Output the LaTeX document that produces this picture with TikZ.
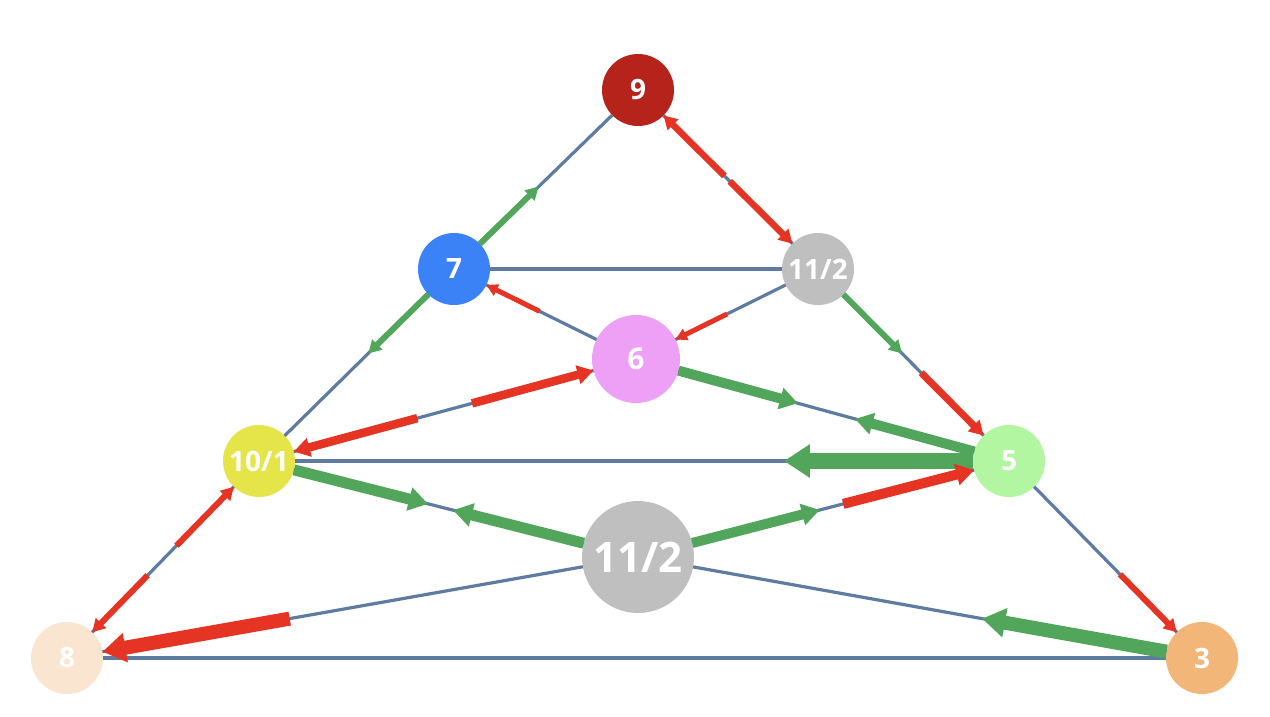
\documentclass[tikz,border=0pt]{standalone}
\usepackage{fontspec}
\newfontfamily\nf{Open Sans}
\usetikzlibrary{arrows.meta,calc}
\definecolor{basec}{RGB}{94,124,162}
\definecolor{arrg}{RGB}{82,166,92}
\definecolor{arrr}{RGB}{229,51,36}
\definecolor{c9}{RGB}{181,35,26}
\definecolor{c7}{RGB}{59,130,246}
\definecolor{cgray}{RGB}{191,191,191}
\definecolor{c6}{RGB}{238,160,247}
\definecolor{c10}{RGB}{229,229,74}
\definecolor{c5}{RGB}{179,246,162}
\definecolor{c8}{RGB}{249,229,208}
\definecolor{c3}{RGB}{241,182,120}
\begin{document}
\begin{tikzpicture}[x=1pt,y=-1pt,
  nd/.style={circle,inner sep=0pt,outer sep=0pt,minimum size=72pt,text=white,font=\nf\bfseries\fontsize{28}{30}\selectfont},
  base/.style={draw=basec,line width=3.2pt},
  grn/.style={draw=arrg,line width=#1pt,-{Triangle[length=5pt 1.3,width=3pt 1.8]}},
  rd/.style={draw=arrr,line width=#1pt,-{Triangle[length=5pt 1.3,width=3pt 1.8]}}]
\useasboundingbox[fill=white] (0,0) rectangle (1270,716);
% nodes
\node[nd,fill=c9] (n9) at (638,90) {9};
\node[nd,fill=c7] (n7) at (454,269) {7};
\node[nd,fill=cgray] (nA) at (818,269) {11/2};
\node[nd,fill=c6,minimum size=88pt,font=\nf\bfseries\fontsize{30}{32}\selectfont] (n6) at (636,359) {6};
\node[nd,fill=c10] (n10) at (259,461) {10/1};
\node[nd,fill=c5] (n5) at (1009,461) {5};
\node[nd,fill=cgray,minimum size=112pt,font=\nf\bfseries\fontsize{42}{44}\selectfont] (nB) at (638,557) {11/2};
\node[nd,fill=c8] (n8) at (67,658) {8};
\node[nd,fill=c3] (n3) at (1202,658) {3};
% base lines
\draw[base] (n9) -- (n7);
\draw[base] (n9) -- (nA);
\draw[base] (n7) -- (nA);
\draw[base] (n7) -- (n6);
\draw[base] (nA) -- (n6);
\draw[base] (n7) -- (n10);
\draw[base] (nA) -- (n5);
\draw[base] (n6) -- (n10);
\draw[base] (n6) -- (n5);
\draw[base] (n10) -- (n5);
\draw[base] (n10) -- (nB);
\draw[base] (nB) -- (n5);
\draw[base] (n10) -- (n8);
\draw[base] (n5) -- (n3);
\draw[base] (nB) -- (n8);
\draw[base] (nB) -- (n3);
\draw[base] (n8) -- (n3);
% flow arrows
\draw[grn=6] (n7) -- ($(n7)!0.46!(n9)$);
\draw[rd=6.5] ($(n9)!0.48!(nA)$) -- (n9);
\draw[rd=6.5] ($(nA)!0.49!(n9)$) -- (nA);
\draw[rd=5] ($(n7)!0.47!(n6)$) -- (n7);
\draw[rd=5] ($(n6)!0.5!(nA)$) -- (n6);
\draw[grn=6] (n7) -- ($(n7)!0.44!(n10)$);
\draw[grn=6] (nA) -- ($(nA)!0.44!(n5)$);
\draw[rd=7] ($(n5)!0.46!(nA)$) -- (n5);
\draw[rd=8.5] ($(n6)!0.435!(n10)$) -- (n6);
\draw[rd=8.5] ($(n10)!0.42!(n6)$) -- (n10);
\draw[grn=10] (n6) -- ($(n6)!0.434!(n5)$);
\draw[grn=10] (n5) -- ($(n5)!0.413!(n6)$);
\draw[grn=16] (n5) -- ($(n5)!0.30!(n10)$);
\draw[grn=11] (n10) -- ($(n10)!0.446!(nB)$);
\draw[grn=11] (nB) -- ($(nB)!0.488!(n10)$);
\draw[grn=10] (nB) -- ($(nB)!0.49!(n5)$);
\draw[rd=10] ($(n5)!0.447!(nB)$) -- (n5);
\draw[rd=6] ($(n10)!0.43!(n8)$) -- (n10);
\draw[rd=6] ($(n8)!0.42!(n10)$) -- (n8);
\draw[rd=6] ($(n3)!0.425!(n5)$) -- (n3);
\draw[rd=14] ($(n8)!0.39!(nB)$) -- (n8);
\draw[grn=14] (n3) -- ($(n3)!0.39!(nB)$);
\end{tikzpicture}
\end{document}
